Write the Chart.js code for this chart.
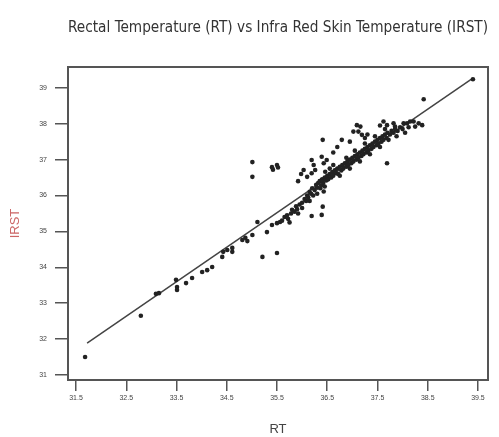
<!DOCTYPE html>
<html>
<head>
<meta charset="utf-8">
<script src="https://cdn.jsdelivr.net/npm/chart.js@4.4.1/dist/chart.umd.min.js"></script>
<style>
  html, body { margin: 0; padding: 0; background: #fff; }
  #wrap { width: 499px; height: 437px; }
</style>
</head>
<body>
<div id="wrap"><canvas id="scatter"></canvas></div>
<script>
// --- data ---
const rt = [
  31.68, 32.79, 33.09, 33.15, 33.49, 33.51, 33.51, 33.69, 33.81, 34.01,
  34.11, 34.21, 34.41, 34.43, 34.51, 34.61, 34.61, 34.81, 34.87, 34.91,
  35.01, 35.11, 35.21, 35.30, 35.40, 35.50, 35.56, 35.50,
  35.01, 35.01, 35.40, 35.50, 35.42, 35.52,
  35.60, 35.65, 35.70, 35.72, 35.78, 35.80, 35.85, 35.88, 35.90, 35.95,
  36.00, 36.00, 36.05, 36.08, 36.10, 36.12, 36.15, 36.18, 36.20, 36.22,
  36.25, 36.28, 36.30, 36.32, 36.35, 36.38, 36.40, 36.42, 36.45, 36.48,
  36.50, 36.52, 36.55, 36.58, 36.60, 36.62, 36.65, 36.68, 36.70, 36.72,
  36.75, 36.78, 36.80, 36.82, 36.85, 36.88, 36.90, 36.92, 36.95, 36.98,
  37.00, 37.02, 37.05, 37.08, 37.10, 37.12, 37.15, 37.18, 37.20, 37.22,
  37.25, 37.28, 37.30, 37.32, 37.35, 37.38, 37.40, 37.42, 37.45, 37.48,
  37.50, 37.52, 37.55, 37.58, 37.60, 37.62, 37.65, 37.68, 37.70, 37.75,
  37.78, 37.82, 37.85, 37.90, 37.95, 38.00,
  36.19, 36.23, 36.26, 36.19, 36.03, 36.10, 35.92, 35.98,
  36.39, 36.43, 36.49, 36.46, 36.39, 36.36, 36.43,
  36.41, 36.79, 36.62, 36.70,
  37.09, 37.16, 37.12, 37.19, 37.02, 37.25, 37.30, 36.95,
  37.62, 37.69, 37.82, 37.85, 37.55,
  38.02, 38.09, 38.15, 38.22, 38.25, 38.32, 38.39, 38.12,
  38.42, 39.40,
  36.41, 36.39, 36.19, 37.69,
  36.55, 36.62, 36.75, 36.88, 36.95, 37.05, 37.15, 37.25, 37.35, 37.45,
  37.55, 37.65, 37.72, 37.88, 38.05, 36.30, 36.15, 35.92, 35.75, 36.45
];
const irst = [
  31.50, 32.65, 33.26, 33.28, 33.65, 33.45, 33.37, 33.56, 33.70, 33.87,
  33.92, 34.01, 34.29, 34.43, 34.48, 34.43, 34.54, 34.76, 34.82, 34.73,
  34.90, 35.26, 34.29, 34.98, 35.18, 35.23, 35.26, 34.40,
  36.93, 36.52, 36.79, 36.85, 36.72, 36.78,
  35.30, 35.40, 35.45, 35.35, 35.50, 35.60, 35.55, 35.70, 35.62, 35.75,
  35.80, 35.65, 35.90, 35.85, 36.00, 35.95, 36.10, 36.05, 36.20, 36.00,
  36.15, 36.30, 36.22, 36.35, 36.40, 36.28, 36.45, 36.35, 36.50, 36.42,
  36.55, 36.45, 36.60, 36.50, 36.65, 36.55, 36.70, 36.62, 36.75, 36.60,
  36.80, 36.70, 36.85, 36.75, 36.90, 36.80, 36.95, 36.85, 37.00, 36.90,
  37.05, 36.95, 37.10, 37.00, 37.15, 37.05, 37.20, 37.10, 37.25, 37.15,
  37.30, 37.20, 37.35, 37.25, 37.40, 37.30, 37.45, 37.35, 37.50, 37.40,
  37.55, 37.45, 37.60, 37.50, 37.65, 37.55, 37.70, 37.60, 37.75, 37.70,
  37.80, 37.75, 37.85, 37.80, 37.90, 37.85,
  36.99, 36.85, 36.71, 36.62, 36.71, 36.52, 36.40, 36.60,
  37.08, 36.90, 36.99, 36.66, 36.43, 36.20, 36.11,
  37.55, 37.55, 37.20, 37.35,
  37.96, 37.92, 37.78, 37.69, 37.78, 37.60, 37.70, 37.50,
  38.06, 37.96, 38.01, 37.92, 37.95,
  38.01, 38.01, 38.06, 38.06, 37.92, 38.01, 37.96, 37.90,
  38.68, 39.24,
  35.69, 35.46, 35.43, 36.90,
  36.75, 36.85, 36.55, 37.05, 36.75, 37.25, 36.95, 37.45, 37.15, 37.65,
  37.35, 37.85, 37.55, 37.65, 37.75, 36.05, 35.85, 35.50, 35.25, 36.25
];
// fitted line end points (RT, IRST)
const fitRT = [31.72, 39.40];
const fitIRST = [31.89, 39.27];
const xTicks = [31.5, 32.5, 33.5, 34.5, 35.5, 36.5, 37.5, 38.5, 39.5];
const yTicks = [31, 32, 33, 34, 35, 36, 37, 38, 39];

const ink = '#222';
const frame = '#555';

// box around the plot area
const boxPlugin = {
  id: 'box',
  afterDatasetsDraw(chart) {
    const a = chart.chartArea;
    const c = chart.ctx;
    c.save();
    c.strokeStyle = frame;
    c.lineWidth = 2;
    c.strokeRect(a.left, a.top, a.right - a.left, a.bottom - a.top);
    c.restore();
  }
};

const points = rt.map((x, i) => ({ x: x, y: irst[i] }));
const fit = fitRT.map((x, i) => ({ x: x, y: fitIRST[i] }));

new Chart(document.getElementById('scatter'), {
  type: 'scatter',
  data: {
    datasets: [
      {
        label: 'fit',
        data: fit,
        showLine: true,
        borderColor: '#444',
        borderWidth: 1.5,
        pointRadius: 0,
        order: 2
      },
      {
        label: 'IRST',
        data: points,
        backgroundColor: ink,
        borderColor: ink,
        pointRadius: 2.3,
        borderWidth: 0,
        order: 1
      }
    ]
  },
  options: {
    responsive: true,
    maintainAspectRatio: false,
    animation: false,
    layout: { padding: { left: 8, right: 11, top: 0, bottom: 0 } },
    plugins: {
      legend: { display: false },
      tooltip: { enabled: false },
      title: {
        display: true,
        fullSize: false,
        text: 'Rectal Temperature (RT) vs Infra Red Skin Temperature (IRST)',
        color: '#333',
        font: { family: "'Liberation Sans Narrow', 'DejaVu Sans Condensed', sans-serif", size: 16, weight: 'normal' },
        padding: { top: 18, bottom: 29.8 }
      }
    },
    scales: {
      x: {
        type: 'linear',
        min: 31.34,
        max: 39.70,
        afterBuildTicks: (s) => { s.ticks = xTicks.map(v => ({ value: v })); },
        afterFit: (s) => { s.height = 57; },
        grid: { display: true, drawOnChartArea: false, drawTicks: true, tickLength: 11, color: frame, lineWidth: 1.5 },
        border: { display: false },
        ticks: {
          color: '#444',
          font: { family: "'Liberation Sans Narrow', sans-serif", size: 7 },
          padding: 3,
          maxRotation: 0,
          callback: (v) => v.toFixed(1)
        },
        title: {
          display: true,
          text: 'RT',
          color: '#444',
          font: { family: "'Liberation Sans Narrow', sans-serif", size: 13 },
          padding: { top: 8, bottom: 0 }
        }
      },
      y: {
        type: 'linear',
        min: 30.86,
        max: 39.58,
        afterBuildTicks: (s) => { s.ticks = yTicks.map(v => ({ value: v })); },
        afterFit: (s) => { s.width = 60; },
        grid: { display: true, drawOnChartArea: false, drawTicks: true, tickLength: 13, color: frame, lineWidth: 1.5 },
        border: { display: false },
        ticks: {
          color: '#444',
          font: { family: "'Liberation Sans Narrow', sans-serif", size: 7 },
          padding: 8,
          callback: (v) => String(v)
        },
        title: {
          display: true,
          text: 'IRST',
          color: '#c66',
          font: { family: "'Liberation Sans Narrow', sans-serif", size: 13 },
          padding: { top: 0, bottom: 6 }
        }
      }
    }
  },
  plugins: [boxPlugin]
});
</script>
</body>
</html>
